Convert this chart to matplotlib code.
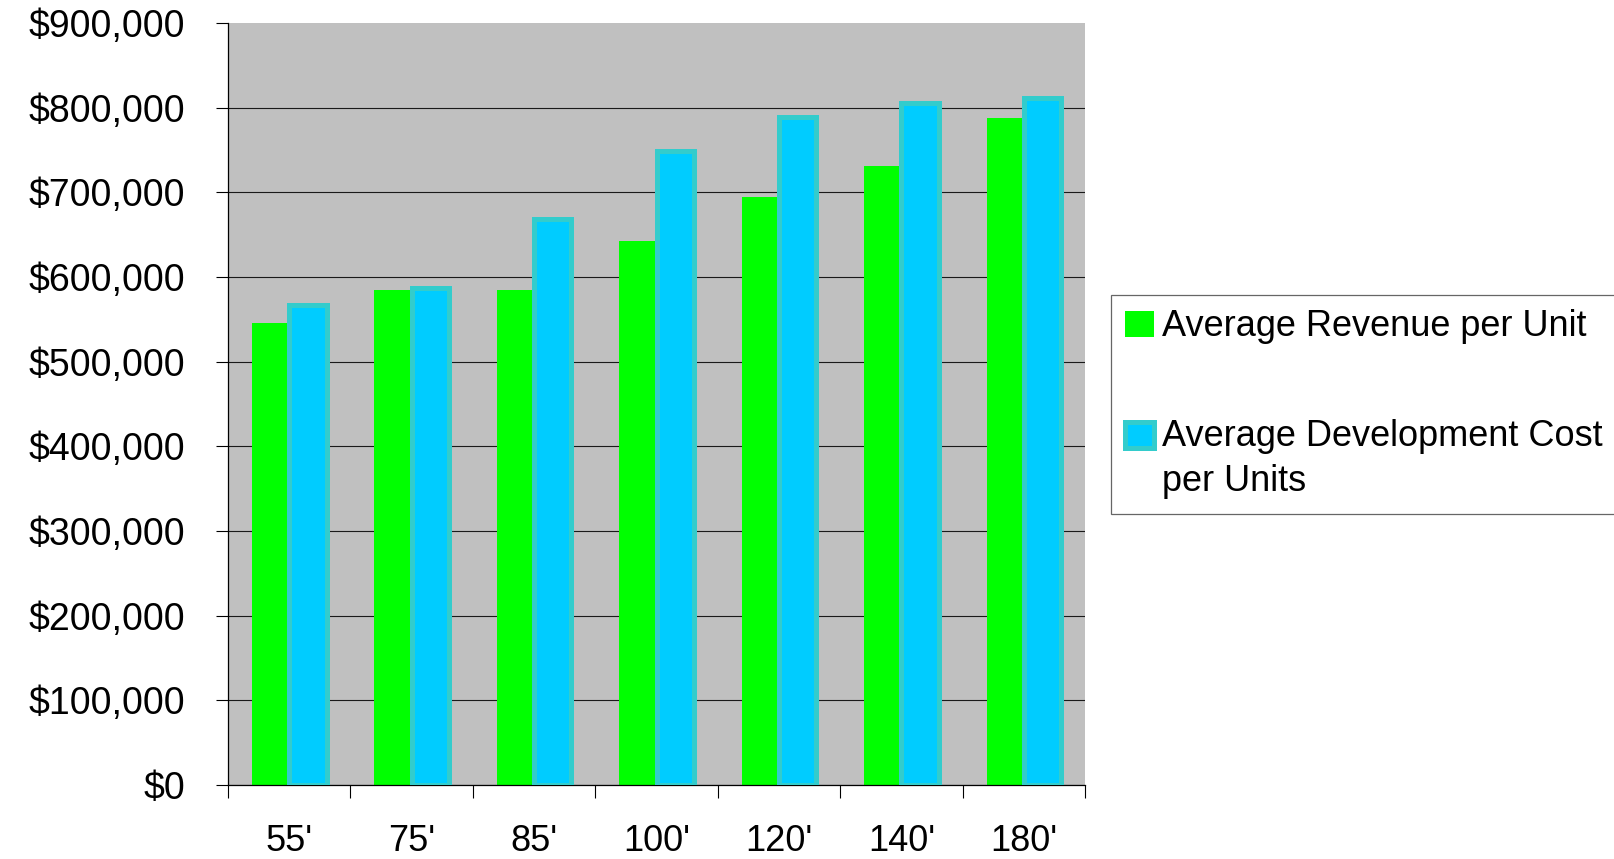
import numpy as np
import matplotlib.pyplot as plt
from matplotlib.ticker import FuncFormatter, FixedLocator


plt.rcParams["font.family"] = ["Liberation Sans", "DejaVu Sans"]

colors = {
    "green": "#00ff00",
    "blue": "#00ccff",
    "teal": "#33cccc",
    "gray": "#c0c0c0",
}

# Lot widths and average figures per unit
lot_sizes = ["55'", "75'", "85'", "100'", "120'", "140'", "180'"]
avg_revenue = [546000, 585000, 585000, 642000, 694000, 731000, 788000]
avg_dev_cost = [567000, 587000, 669000, 749000, 789000, 806000, 812000]

series_labels = ["Average Revenue per Unit", "Average Development Cost\nper Units"]


def plot_revenue_vs_cost():
    index = np.arange(len(lot_sizes))
    bar_width = 0.305
    font_size = 26

    fig = plt.figure(figsize=(16.15, 8.59), dpi=100)
    ax = fig.add_axes([0.1412, 0.0861, 0.5307, 0.8871])
    ax.set_facecolor(colors["gray"])

    # Bars for both series, side by side in each lot group
    rev_bars = ax.bar(index - bar_width / 2, avg_revenue, bar_width,
                      color=colors["green"], linewidth=0, label=series_labels[0], zorder=2)
    cost_bars = ax.bar(index + bar_width / 2, avg_dev_cost, bar_width,
                       color=colors["blue"], edgecolor=colors["teal"], linewidth=3.6,
                       label=series_labels[1], zorder=3)

    # Y axis in dollars
    ax.set_ylim(0, 900000)
    ax.yaxis.set_major_locator(FixedLocator(np.arange(0, 900001, 100000)))
    ax.yaxis.set_major_formatter(FuncFormatter(lambda v, pos: "${:,.0f}".format(v)))
    ax.tick_params(axis="y", direction="out", length=8.6, width=0.8, pad=22.5,
                   labelsize=27, colors="black")
    ax.grid(axis="y", color="#1a1a1a", linewidth=0.8, zorder=1)
    ax.set_axisbelow(True)
    ax.yaxis.get_gridlines()[-1].set_visible(False)

    # X axis: ticks between groups, labels under each group
    ax.set_xlim(-0.5, len(lot_sizes) - 0.5)
    ax.set_xticks(np.arange(-0.5, len(lot_sizes), 1.0))
    ax.set_xticklabels([])
    ax.set_xticks(index, minor=True)
    ax.set_xticklabels(lot_sizes, minor=True)
    ax.tick_params(axis="x", which="major", direction="out", length=9, width=0.8)
    ax.tick_params(axis="x", which="minor", length=0, pad=28, labelsize=font_size)

    for side in ["top", "right"]:
        ax.spines[side].set_visible(False)
    for side in ["left", "bottom"]:
        ax.spines[side].set_color("black")
        ax.spines[side].set_linewidth(0.9)

    legend = fig.legend(
        handles=[rev_bars, cost_bars], labels=series_labels,
        loc="upper left", bbox_to_anchor=(0.6877, 0.6566), borderaxespad=0,
        fontsize=font_size, frameon=True, fancybox=False, edgecolor="#404040",
        handlelength=0.8, handleheight=0.75, handletextpad=0.23,
        labelspacing=2.06, borderpad=0.4,
    )
    legend.get_frame().set_linewidth(0.9)
    legend.get_texts()[1].set_linespacing(1.38)

    # Raise the second swatch to sit level with the first text line
    swatch = legend.get_patches()[1]
    swatch.set_y(swatch.get_y() + font_size * 0.69)

    fig.savefig("out.png", dpi=100)


if __name__ == "__main__":
    plot_revenue_vs_cost()
